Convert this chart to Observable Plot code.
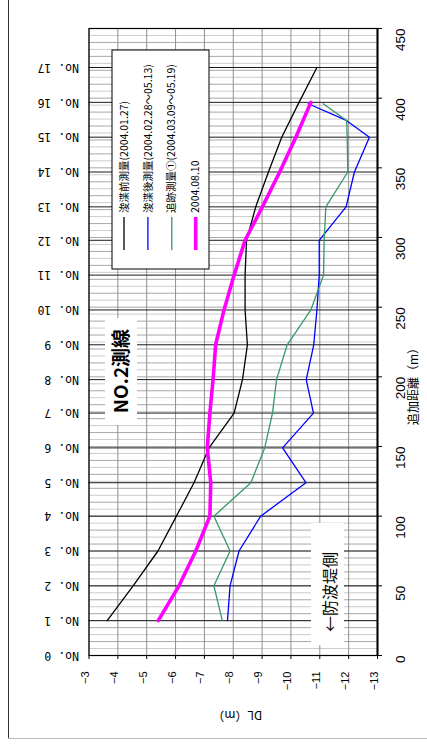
<!DOCTYPE html>
<html><head><meta charset="utf-8">
<script src="https://cdn.jsdelivr.net/npm/d3@7"></script>
<script src="https://cdn.jsdelivr.net/npm/@observablehq/plot@0.6"></script>
<style>
body{margin:0;background:#fff;}
#wrap{position:relative;width:427px;height:749px;overflow:hidden;background:#fff;}
#wrap svg{position:absolute;left:0;top:0;}
.bl{position:absolute;left:8px;top:0;width:1px;height:738px;background:#333;}
.bb{position:absolute;left:8px;top:738px;width:419px;height:1px;background:#bbb;}
</style></head><body><div id="wrap"><div class="bl"></div><div class="bb"></div></div>
<script>
// Station names and their distances (m)
const stationNames = ["No. 0","No. 1","No. 2","No. 3","No. 4","No. 5","No. 6","No. 7","No. 8","No. 9","No. 10","No. 11","No. 12","No. 13","No. 14","No. 15","No. 16","No. 17"];
const stationDist = [0,25,50,75,100,124,149,174,198,223,248,273,298,322,347,372,397,422];
// Axis ticks
const dlTicks = [-3,-4,-5,-6,-7,-8,-9,-10,-11,-12,-13];
const distTicks = [0,50,100,150,200,250,300,350,400,450];
// Grid lines along distance (every 10 m, and the 5 m lines between)
const distGrid10 = [10,20,30,40,50,60,70,80,90,100,110,120,130,140,150,160,170,180,190,200,210,220,230,240,250,260,270,280,290,300,310,320,330,340,350,360,370,380,390,400,410,420,430,440];
const distGrid5 = [5,15,25,35,45,55,65,75,85,95,105,115,125,135,145,155,165,175,185,195,205,215,225,235,245,255,265,275,285,295,305,315,325,335,345,355,365,375,385,395,405,415,425,435,445];

// Series 1: 浚渫前測量(2004.01.27)
const preDist = [25,50,75,100,124,149,174,198,223,248,273,298,322,347,372,397,422];
const preDL   = [-3.63,-4.53,-5.39,-6.03,-6.64,-7.16,-8.03,-8.32,-8.49,-8.41,-8.41,-8.46,-8.78,-9.22,-9.68,-10.28,-10.90];
// Series 2: 浚渫後測量(2004.02.28～05.13)
const postDist = [25,50,75,100,124,149,174,198,223,248,273,298,322,347,372,384,396];
const postDL   = [-7.80,-7.89,-8.20,-8.95,-10.52,-9.71,-10.78,-10.53,-10.79,-10.90,-10.98,-10.98,-11.91,-12.20,-12.72,-11.92,-10.60];
// Series 3: 追跡測量①(2004.03.09～05.19)
const trackDist = [25,50,75,100,124,149,174,198,223,248,273,298,322,347,372,384,396];
const trackDL   = [-7.62,-7.33,-7.89,-7.33,-8.61,-9.09,-9.36,-9.50,-9.87,-10.69,-11.13,-11.15,-11.21,-11.97,-11.95,-11.93,-11.12];
// Series 4: 2004.08.10
const augDist = [25,50,75,100,124,149,174,198,223,248,273,298,322,347,372,397];
const augDL   = [-5.40,-6.12,-6.70,-7.19,-7.22,-7.10,-7.19,-7.30,-7.39,-7.68,-8.03,-8.41,-9.01,-9.61,-10.17,-10.69];

const seriesNames = ["浚渫前測量(2004.01.27)","浚渫後測量(2004.02.28～05.13)","追跡測量①(2004.03.09～05.19)","2004.08.10"];
const seriesColors = ["#000000","#0000ff","#339966","#ff00ff"];
const seriesWidths = [1.3,1.3,1.3,3.6];

const toRows = (ds, vs) => ds.map((d,i)=>({dist:d, dl:vs[i]}));
const rows = [toRows(preDist,preDL), toRows(postDist,postDL), toRows(trackDist,trackDL), toRows(augDist,augDL)];

const numFont = "Liberation Sans, Arial, sans-serif";
const jpFont = "Noto Sans CJK JP, sans-serif";

const svg = Plot.plot({
  width: 427, height: 749,
  marginLeft: 88.5, marginRight: 50, marginTop: 28, marginBottom: 94,
  style: {background: "transparent", fontFamily: numFont, color: "#000"},
  x: {domain: [-3,-13], ticks: dlTicks, tickSize: 4, tickFormat: () => "", label: null},
  y: {domain: [0,450], ticks: distTicks, tickSize: 4, tickFormat: () => "", label: null, axis: "right"},
  marks: [
    Plot.ruleY(distGrid5, {stroke: "#cccccc", strokeWidth: 1}),
    Plot.ruleY(distGrid10, {stroke: "#a8a8a8", strokeWidth: 1}),
    Plot.ruleX(dlTicks, {stroke: "#909090", strokeWidth: 1}),
    Plot.ruleY(stationDist.slice(1), {stroke: "#1a1a1a", strokeWidth: 1}),
    Plot.frame({stroke: "#000", strokeWidth: 1.2}),
    Plot.ruleX([-13], {stroke: "#000", strokeWidth: 2}),
    ...rows.map((r,i) => Plot.line(r, {x: "dl", y: "dist", stroke: seriesColors[i], strokeWidth: seriesWidths[i], strokeLinejoin: "miter"})),
    Plot.text(dlTicks, {x: d=>d, text: d=>"−"+Math.abs(d), frameAnchor: "bottom", dy: 16, rotate: -90, textAnchor: "end", fontSize: 11, fontFamily: numFont}),
    Plot.text(distTicks, {y: d=>d, text: d=>String(d), frameAnchor: "right", dx: 23, rotate: -90, fontSize: 13.5, fontFamily: numFont}),
    Plot.text(stationDist, {y: d=>d, text: (d,i)=>stationNames[i], frameAnchor: "left", dx: -10, rotate: 180, textAnchor: "start", fontSize: 11.5, fontFamily: "DejaVu Sans Mono, monospace"}),
    Plot.text(["DL（m）"], {text: d=>d, frameAnchor: "bottom", dx: 4, dy: 55, rotate: 180, fontSize: 12, fontFamily: jpFont}),
    Plot.text(["追加距離（m）"], {text: d=>d, frameAnchor: "right", dx: 37, rotate: -90, fontSize: 12, fontFamily: jpFont})
  ]
});
document.getElementById("wrap").appendChild(svg);

// Legend and annotations overlay
const g = d3.select(svg).append("g").attr("font-family", jpFont);
// legend box
g.append("rect").attr("x",112).attr("y",50).attr("width",97).attr("height",219).attr("fill","#fff").attr("stroke","#000").attr("stroke-width",1);
seriesNames.forEach((name,i) => {
  const x = 124 + i*23.9;
  g.append("line").attr("x1",x).attr("x2",x).attr("y1",217).attr("y2",250).attr("stroke",seriesColors[i]).attr("stroke-width",seriesWidths[i]);
  g.append("text").attr("transform",`translate(${x},213) rotate(-90)`).attr("text-anchor","start").attr("dy","0.35em").attr("font-size",10.5).attr("fill","#000").text(name);
});
// NO.2測線
g.append("rect").attr("x",105).attr("y",318).attr("width",32).attr("height",107).attr("fill","#fff");
g.append("text").attr("transform","translate(121,371) rotate(-90)").attr("text-anchor","middle").attr("dy","0.35em").attr("font-size",19).attr("font-weight","bold").text("NO.2測線");
// ←防波堤側
g.append("rect").attr("x",311).attr("y",523).attr("width",33).attr("height",122).attr("fill","#fff");
g.append("text").attr("transform","translate(330,592) rotate(-90)").attr("text-anchor","middle").attr("dy","0.35em").attr("font-size",16).text("←防波堤側");
</script></body></html>
